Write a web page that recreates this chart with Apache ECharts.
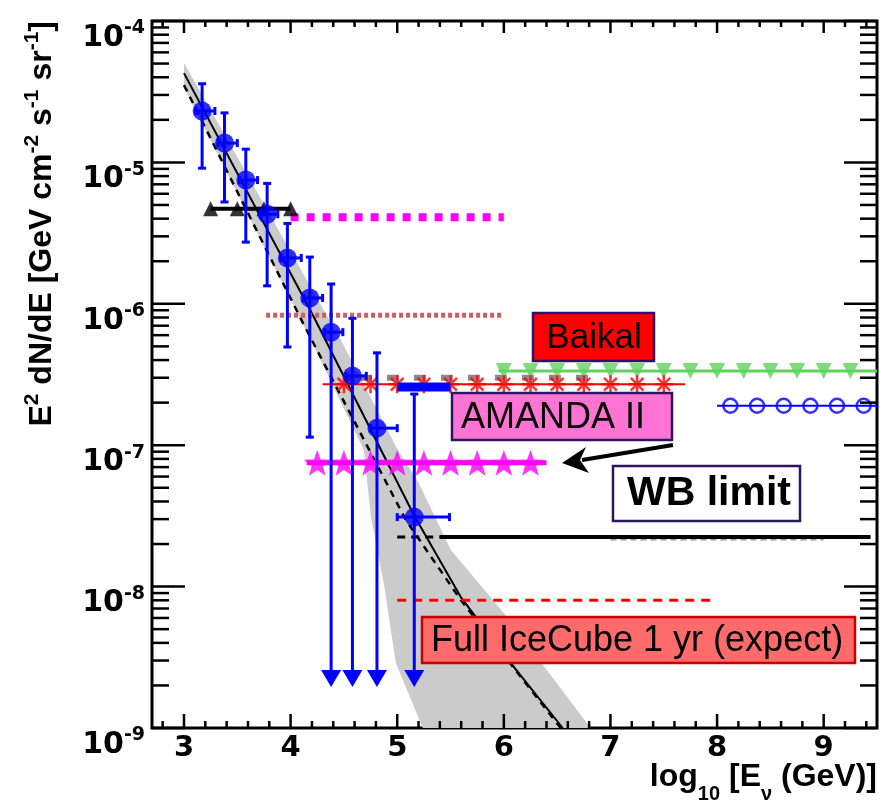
<!DOCTYPE html>
<html>
<head>
<meta charset="utf-8">
<script src="https://cdn.jsdelivr.net/npm/echarts@6.0.0/dist/echarts.min.js"></script>
<style>
html,body{margin:0;padding:0;background:#ffffff;}
#chart{width:890px;height:805px;}
</style>
</head>
<body>
<div id="chart"></div>
<script>
// ================= DATA =================
// unfolded spectrum (blue points)
const unfoldX       = [3.17, 3.38, 3.58, 3.78, 3.97, 4.18, 4.38, 4.58, 4.81, 5.16];
const unfoldY       = [2.31e-5, 1.37e-5, 7.5e-6, 4.3e-6, 2.11e-6, 1.1e-6, 6.3e-7, 3.09e-7, 1.32e-7, 3.1e-8];
const unfoldYHigh   = [3.6e-5, 2.24e-5, 1.24e-5, 7.1e-6, 3.7e-6, 2.14e-6, 1.38e-6, 7.9e-7, 4.5e-7, 2.3e-7];
const unfoldYLow    = [9.1e-6, 5.25e-6, 2.73e-6, 1.34e-6, 4.95e-7, 1.14e-7, 1.95e-9, 1.95e-9, 1.95e-9, 1.95e-9];
const unfoldXLow    = [3.11, 3.32, 3.52, 3.72, 3.91, 4.12, 4.32, 4.52, 4.75, 5.0];
const unfoldXHigh   = [3.29, 3.50, 3.69, 3.88, 4.10, 4.30, 4.49, 4.71, 5.0, 5.49];
const unfoldIsLimit = [0, 0, 0, 0, 0, 0, 1, 1, 1, 1];

// model curves
const solidCurveX = [3.0, 4.218, 5.156, 5.596, 6.065, 6.552];
const solidCurveY = [4.28e-5, 8.07e-7, 3.21e-8, 8.43e-9, 2.88e-9, 1e-9];
const dashCurveX  = [3.0, 4.125, 5.081, 5.596, 6.533];
const dashCurveY  = [3.52e-5, 7.08e-7, 2.96e-8, 8.03e-9, 1e-9];

// uncertainty band
const bandUpperX = [3.0, 4.471, 5.006, 5.202, 5.502, 5.999, 6.814];
const bandUpperY = [5.05e-5, 5.55e-7, 9.24e-8, 5.41e-8, 1.82e-8, 6.5e-9, 1e-9];
const bandLowerX = [3.0, 4.19, 4.687, 4.753, 4.874, 4.987, 5.24];
const bandLowerY = [3.41e-5, 5.55e-7, 9.24e-8, 3.1e-8, 1.06e-8, 2.88e-9, 1e-9];

// horizontal limits
const blackTriX = [3.25, 3.5, 3.75, 4.0];          const blackTriLevel = 4.7e-6;
const magentaDotRange = [4.0, 6.0];                const magentaDotLevel = 4.1e-6;
const brownDotRange = [3.77, 6.0];                 const brownDotLevel = 8.3e-7;
const grayDashRange = [4.65, 6.8];                 const grayDashLevel = 3.0e-7;
const redStarRange = [4.3, 7.7];                   const redStarLevel = 2.7e-7;
const redStarX = [4.5, 4.75, 5.0, 5.25, 5.5, 5.75, 6.0, 6.25, 6.5, 6.75, 7.0, 7.25, 7.5];
const greenRange = [5.95, 9.5];                    const greenLevel = 3.35e-7;
const greenX = [6.0, 6.25, 6.5, 6.75, 7.0, 7.25, 7.5, 7.75, 8.0, 8.25, 8.5, 8.75, 9.0, 9.25];
const blueOpenRange = [8.0, 9.5];                  const blueOpenLevel = 1.9e-7;
const blueOpenX = [8.125, 8.375, 8.625, 8.875, 9.125, 9.375];
const magStarRange = [4.15, 6.4];                  const magStarLevel = 7.5e-8;
const magStarX = [4.25, 4.5, 4.75, 5.0, 5.25, 5.5, 5.75, 6.0, 6.25];
const wbSolidRange = [5.4, 9.44];                  const wbLevel = 2.24e-8;
const wbDashRange = [5.0, 8.0];
const wbGrayRange = [7.0, 9.0];                    const wbGrayLevel = 2.15e-8;
const redDashRange = [5.0, 8.0];                   const redDashLevel = 8.0e-9;
const blueBarRange = [5.0, 5.5];                   const blueBarLevel = 2.58e-7;

// axes / ticks
const xMin = 2.7, xMax = 9.5;
const yMin = 1e-9, yMax = 1e-4;
const xTickLabels = [3, 4, 5, 6, 7, 8, 9];
const xMinorTicks = [2.8, 3.2, 3.4, 3.6, 3.8, 4.2, 4.4, 4.6, 4.8, 5.2, 5.4, 5.6, 5.8, 6.2, 6.4, 6.6, 6.8,
                     7.2, 7.4, 7.6, 7.8, 8.2, 8.4, 8.6, 8.8, 9.2, 9.4];
const yDecades = [1e-9, 1e-8, 1e-7, 1e-6, 1e-5, 1e-4];
const yMinorMantissa = [2, 3, 4, 5, 6, 7, 8, 9];

// annotation texts
const labelBaikal = 'Baikal';
const labelAmanda = 'AMANDA II';
const labelWB = 'WB limit';
const labelIceCube = 'Full IceCube 1 yr (expect)';

// ================= CHART =================
const FT = 'DejaVu Sans';
const FL = 'Liberation Sans';
const chart = echarts.init(document.getElementById('chart'), null, {renderer: 'canvas'});

const zip = (xs, ys) => xs.map((x, i) => [x, ys[i]]);
const level = (xs, v) => xs.map(x => [x, v]);

const STAR = 'path://M0,-10 L2.41,-3.32 L9.51,-3.09 L3.9,1.27 L5.88,8.09 L0,4.1 L-5.88,8.09 L-3.9,1.27 L-9.51,-3.09 L-2.41,-3.32 Z';
const ASTER = 'path://M0,-10L0,10M-10,0L10,0M-7.07,-7.07L7.07,7.07M-7.07,7.07L7.07,-7.07';

function lineSeries(data, color, width, type, z) {
  return {type: 'line', data: data, symbol: 'none', showSymbol: false, silent: true, z: z || 3,
          lineStyle: {color: color, width: width, type: type || 'solid', cap: 'butt'}};
}
function scatterSeries(data, symbol, size, itemStyle, z, rotate) {
  return {type: 'scatter', data: data, symbol: symbol, symbolSize: size, symbolRotate: rotate || 0,
          symbolKeepAspect: true, silent: true, z: z || 4, itemStyle: itemStyle};
}

// tick items: kind 0 = x major, 1 = x minor, 2 = y major, 3 = y minor
const tickItems = [];
xTickLabels.forEach(v => tickItems.push([v, 1e-6, 0]));
xMinorTicks.forEach(v => tickItems.push([v, 1e-6, 1]));
yDecades.forEach(d => tickItems.push([5, d, 2]));
yDecades.slice(0, -1).forEach(d => yMinorMantissa.forEach(m => tickItems.push([5, m * d, 3])));

const errData = unfoldX.map((x, i) => [x, unfoldY[i], unfoldXLow[i], unfoldXHigh[i], unfoldYLow[i], unfoldYHigh[i], unfoldIsLimit[i]]);

const series = [
  // uncertainty band
  {type: 'custom', silent: true, z: 1, clip: false,
   data: [[bandUpperX[0], bandUpperY[0]]],
   renderItem: function (params, api) {
     const pts = [];
     for (let i = 0; i < bandUpperX.length; i++) pts.push(api.coord([bandUpperX[i], bandUpperY[i]]));
     for (let i = bandLowerX.length - 1; i >= 0; i--) pts.push(api.coord([bandLowerX[i], bandLowerY[i]]));
     return {type: 'polygon', shape: {points: pts}, style: {fill: '#cbcbcb'}};
   }},
  lineSeries(zip(solidCurveX, solidCurveY), '#000', 2, 'solid', 2),
  lineSeries(zip(dashCurveX, dashCurveY), '#000', 2.5, [7, 6], 2),

  lineSeries(level([blackTriX[0], blackTriX[blackTriX.length - 1]], blackTriLevel), '#000', 4),
  scatterSeries(level(blackTriX, blackTriLevel), 'triangle', 15, {color: '#000'}),

  lineSeries(level(magentaDotRange, magentaDotLevel), '#ff00ff', 8, [8, 8]),
  lineSeries(level(brownDotRange, brownDotLevel), '#cc5f5f', 5, [4, 3]),
  lineSeries(level(grayDashRange, grayDashLevel), '#8a8a8a', 6, [12, 15]),

  lineSeries(level(greenRange, greenLevel), '#5ed35e', 3),
  scatterSeries(level(greenX, greenLevel), 'triangle', 16, {color: '#5ed35e'}, 4, 180),

  lineSeries(level(redStarRange, redStarLevel), '#ff0000', 2),
  scatterSeries(level(redStarX, redStarLevel), ASTER, 18, {color: 'rgba(0,0,0,0)', borderColor: '#ff0000', borderWidth: 2.5}),

  lineSeries(level(blueOpenRange, blueOpenLevel), '#0000ff', 2),
  scatterSeries(level(blueOpenX, blueOpenLevel), 'circle', 14, {color: 'rgba(0,0,0,0)', borderColor: '#0000ff', borderWidth: 2.5}),

  lineSeries(level(magStarRange, magStarLevel), '#ff00ff', 5),
  scatterSeries(level(magStarX, magStarLevel), STAR, 27, {color: '#ff00ff'}),

  lineSeries(level(wbDashRange, wbLevel), '#000', 3, [8, 6]),
  lineSeries(level(wbGrayRange, wbGrayLevel), '#9a9a9a', 2, [6, 4]),
  lineSeries(level(wbSolidRange, wbLevel), '#000', 4),

  lineSeries(level(redDashRange, redDashLevel), '#ff0000', 3, [9, 7]),
  lineSeries(level(blueBarRange, blueBarLevel), '#0000ff', 9, 'solid', 5),

  // error bars / upper-limit arrows
  {type: 'custom', silent: true, z: 6, clip: false, data: errData, encode: {x: 0, y: 1},
   renderItem: function (params, api) {
     const x = api.value(0), y = api.value(1);
     const c = api.coord([x, y]);
     const top = api.coord([x, api.value(5)])[1];
     const bot = api.coord([x, api.value(4)])[1];
     const left = api.coord([api.value(2), y])[0];
     const right = api.coord([api.value(3), y])[0];
     const lim = api.value(6);
     const st = {stroke: '#0000ff', lineWidth: 3};
     const ch = [];
     ch.push({type: 'line', shape: {x1: c[0], y1: top, x2: c[0], y2: lim ? bot - 16 : bot}, style: st});
     ch.push({type: 'line', shape: {x1: c[0] - 4, y1: top, x2: c[0] + 4, y2: top}, style: st});
     if (lim) {
       ch.push({type: 'polygon', shape: {points: [[c[0] - 10, bot - 17], [c[0] + 10, bot - 17], [c[0], bot]]}, style: {fill: '#0000ff'}});
     } else {
       ch.push({type: 'line', shape: {x1: c[0] - 4, y1: bot, x2: c[0] + 4, y2: bot}, style: st});
     }
     ch.push({type: 'line', shape: {x1: left, y1: c[1], x2: right, y2: c[1]}, style: st});
     ch.push({type: 'line', shape: {x1: right, y1: c[1] - 4, x2: right, y2: c[1] + 4}, style: st});
     ch.push({type: 'line', shape: {x1: left, y1: c[1] - 4, x2: left, y2: c[1] + 4}, style: st});
     return {type: 'group', children: ch};
   }},
  scatterSeries(zip(unfoldX, unfoldY), 'circle', 19, {color: '#0000ff'}, 7),

  // axis ticks (inside, all four sides)
  {type: 'custom', silent: true, z: 8, clip: false, data: tickItems,
   renderItem: function (params, api) {
     const cs = params.coordSys;
     const kind = api.value(2);
     const st = {stroke: '#000', lineWidth: 2.5};
     if (kind < 2) {
       const px = api.coord([api.value(0), 1e-6])[0];
       const lb = kind === 0 ? 14 : 7, lt = kind === 0 ? 12 : 6;
       return {type: 'group', children: [
         {type: 'line', shape: {x1: px, y1: cs.y + cs.height, x2: px, y2: cs.y + cs.height - lb}, style: st},
         {type: 'line', shape: {x1: px, y1: cs.y, x2: px, y2: cs.y + lt}, style: st}
       ]};
     }
     const py = api.coord([5, api.value(1)])[1];
     const ll = kind === 2 ? 33 : 17;
     return {type: 'group', children: [
       {type: 'line', shape: {x1: cs.x, y1: py, x2: cs.x + ll, y2: py}, style: st},
       {type: 'line', shape: {x1: cs.x + cs.width, y1: py, x2: cs.x + cs.width - ll, y2: py}, style: st}
     ]};
   }}
];

// arrow geometry (annotation)
const arrowTail = [673, 445], arrowTip = [562, 463];

const option = {
  animation: false,
  backgroundColor: '#ffffff',
  textStyle: {fontFamily: FL},
  grid: {left: 152, right: 13, top: 21, bottom: 77, show: true, borderColor: '#000', borderWidth: 3,
         backgroundColor: 'transparent', containLabel: false, outerBoundsMode: 'none'},
  xAxis: {type: 'value', min: xMin, max: xMax,
          axisLine: {show: false}, axisTick: {show: false}, splitLine: {show: false},
          axisLabel: {customValues: xTickLabels, fontFamily: FT, fontWeight: 'bold', fontSize: 29,
                      color: '#000', margin: 5, lineHeight: 30}},
  yAxis: {type: 'log', logBase: 10, min: yMin, max: yMax,
          axisLine: {show: false}, axisTick: {show: false}, splitLine: {show: false}, minorTick: {show: false},
          axisLabel: {margin: 7,
            formatter: function (v) { return '{b|10}{s|' + Math.round(Math.log10(v)) + '}'; },
            rich: {
              b: {fontFamily: FT, fontWeight: 'bold', fontSize: 30, lineHeight: 30, color: '#000', verticalAlign: 'top', padding: [17, 0, 0, 0]},
              s: {fontFamily: FT, fontWeight: 'bold', fontSize: 19, lineHeight: 19, color: '#000', verticalAlign: 'top', padding: [13, 0, 0, 0]}
            }}},
  series: series,
  graphic: [
    // y axis title
    {type: 'text', x: 40, y: 21, rotation: Math.PI / 2, z: 100,
     style: {text: '{m|E}{s|2}{m| dN/dE [GeV cm}{s|-2}{m| s}{s|-1}{m| sr}{s|-1}{m|]}',
             align: 'right', verticalAlign: 'middle',
             rich: {m: {fontFamily: FL, fontWeight: 'bold', fontSize: 32, lineHeight: 36, verticalAlign: 'bottom', fill: '#000'},
                    s: {fontFamily: FL, fontWeight: 'bold', fontSize: 21, lineHeight: 21, verticalAlign: 'top', fill: '#000'}}}},
    // x axis title
    {type: 'text', x: 877, y: 761, z: 100,
     style: {text: '{m|log}{s|10}{m| [E}{s|ν}{m| (GeV)]}', align: 'right', verticalAlign: 'top',
             rich: {m: {fontFamily: FL, fontWeight: 'bold', fontSize: 32, lineHeight: 34, verticalAlign: 'top', fill: '#000'},
                    s: {fontFamily: FL, fontWeight: 'bold', fontSize: 20, lineHeight: 20, verticalAlign: 'top', padding: [23, 0, 0, 0], fill: '#000'}}}},
    // Baikal box
    {type: 'rect', z: 100, shape: {x: 533, y: 313, width: 121, height: 48},
     style: {fill: '#ff0000', stroke: '#2d145f', lineWidth: 2.5}},
    {type: 'text', z: 101, x: 594, y: 338,
     style: {text: labelBaikal, font: '35px "Liberation Sans"', fill: '#000', align: 'center', verticalAlign: 'middle'}},
    // AMANDA II box
    {type: 'rect', z: 100, shape: {x: 452, y: 393, width: 220, height: 47},
     style: {fill: '#ff73d5', stroke: '#2d145f', lineWidth: 2.5}},
    {type: 'text', z: 101, x: 461, y: 418,
     style: {text: labelAmanda, font: '36px "Liberation Sans"', fill: '#000', align: 'left', verticalAlign: 'middle'}},
    // WB limit box
    {type: 'rect', z: 100, shape: {x: 613, y: 466, width: 187, height: 55},
     style: {fill: '#ffffff', stroke: '#2d145f', lineWidth: 2.5}},
    {type: 'text', z: 101, x: 709, y: 494,
     style: {text: labelWB, font: 'bold 41px "Liberation Sans"', fill: '#000', align: 'center', verticalAlign: 'middle'}},
    // Full IceCube box
    {type: 'rect', z: 100, shape: {x: 422, y: 617, width: 433, height: 46},
     style: {fill: '#ff6b6b', stroke: '#c80000', lineWidth: 2.5}},
    {type: 'text', z: 101, x: 431, y: 641,
     style: {text: labelIceCube, font: '36px "Liberation Sans"', fill: '#000', align: 'left', verticalAlign: 'middle'}},
    // arrow
    {type: 'line', z: 100, shape: {x1: arrowTail[0], y1: arrowTail[1], x2: 582, y2: 460},
     style: {stroke: '#000', lineWidth: 4}},
    {type: 'polygon', z: 100, shape: {points: [arrowTip, [586, 447], [580, 460], [589, 473]]},
     style: {fill: '#000'}}
  ]
};
chart.setOption(option);
</script>
</body>
</html>
